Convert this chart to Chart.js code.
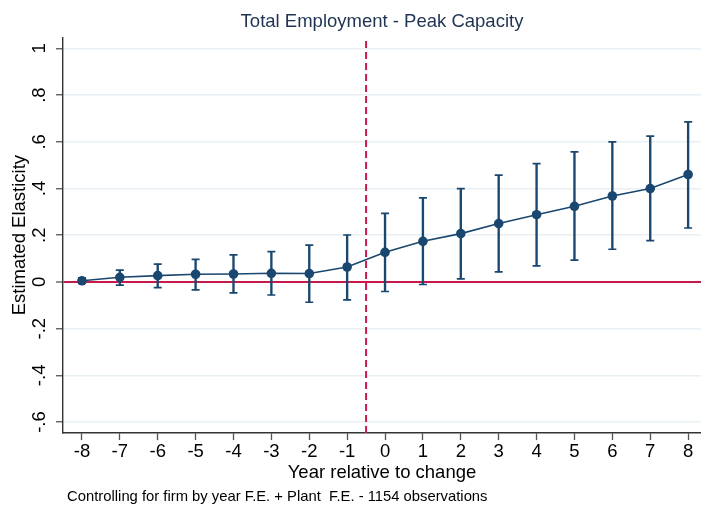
<!DOCTYPE html>
<html>
<head>
<meta charset="utf-8">
<script src="https://cdn.jsdelivr.net/npm/chart.js@4/dist/chart.umd.min.js"></script>
<style>
html,body{margin:0;padding:0;background:#fff;}
#wrap{width:701px;height:506px;position:relative;}
</style>
</head>
<body>
<div id="wrap"><canvas id="chart"></canvas></div>
<script>
// event-study estimates
const years=[-8,-7,-6,-5,-4,-3,-2,-1,0,1,2,3,4,5,6,7,8];
const estimate=[0.005,0.020,0.027,0.033,0.034,0.037,0.036,0.064,0.127,0.174,0.207,0.250,0.288,0.324,0.368,0.400,0.460];
const ciLow=[-0.005,-0.014,-0.024,-0.034,-0.047,-0.056,-0.087,-0.077,-0.041,-0.011,0.013,0.043,0.069,0.093,0.140,0.177,0.231];
const ciHigh=[0.017,0.051,0.076,0.097,0.116,0.130,0.158,0.201,0.294,0.360,0.400,0.457,0.507,0.557,0.600,0.624,0.685];

const yTicks=[-0.6,-0.4,-0.2,0,0.2,0.4,0.6,0.8,1];
const yTickLabels=["-.6","-.4","-.2","0",".2",".4",".6",".8","1"];
const xTicks=years;
const eventX=-0.5;
const yMin=-0.647, yMax=1.048;
const xMin=-8.5, xMax=8.34;

const navy="#1a476f";
const red="#c8194a";
Chart.defaults.font.family="'Liberation Sans', Arial, sans-serif";
Chart.defaults.color="#000";

const pts=arr=>years.map((x,i)=>({x:x,y:arr[i]}));

new Chart(document.getElementById("chart"),{
 type:"line",
 data:{datasets:[
  {type:"line",data:pts(estimate),borderColor:navy,borderWidth:1.6,
   pointRadius:4.8,pointBackgroundColor:navy,pointBorderWidth:0,order:0},
  {type:"bar",data:years.map((x,i)=>({x:x,y:[ciLow[i],ciHigh[i]]})),
   backgroundColor:navy,barThickness:1.7,order:1},
  {type:"scatter",data:pts(ciLow),pointStyle:"line",pointRadius:4,
   borderColor:navy,pointBorderWidth:1.7,order:1},
  {type:"scatter",data:pts(ciHigh),pointStyle:"line",pointRadius:4,
   borderColor:navy,pointBorderWidth:1.7,order:1},
  {type:"line",data:[{x:eventX,y:yMin},{x:eventX,y:yMax}],borderColor:red,
   borderWidth:2,borderDash:[7,4],pointRadius:0,order:2}
 ]},
 options:{
  responsive:true,maintainAspectRatio:false,animation:false,
  layout:{padding:0,autoPadding:false},
  plugins:{
   legend:{display:false},tooltip:{enabled:false},
   title:{display:true,text:"Total Employment - Peak Capacity",fullSize:false,
    color:"#1f3352",font:{size:18.5,weight:"normal"},padding:{top:11,bottom:4}},
   subtitle:{display:true,position:"bottom",align:"start",fullSize:false,
    text:" Controlling for firm by year F.E. + Plant  F.E. - 1154 observations",
    color:"#000",font:{size:14.8},padding:{top:6,bottom:0}}
  },
  scales:{
   x:{type:"linear",min:xMin,max:xMax,offset:false,
    afterBuildTicks:s=>{s.ticks=xTicks.map(v=>({value:v}));},
    afterFit:s=>{s.height=49.2;},
    ticks:{font:{size:18.5},padding:1,callback:v=>String(v),maxRotation:0,autoSkip:false},
    grid:{offset:false,drawOnChartArea:false,drawTicks:true,tickLength:7,tickColor:"#555",tickWidth:1.3},
    border:{display:true,color:"#333",width:1.4},
    title:{display:true,text:"Year relative to change",font:{size:18.5},padding:{top:0,bottom:-2}}
   },
   y:{type:"linear",min:yMin,max:yMax,
    afterBuildTicks:s=>{s.ticks=yTicks.map(v=>({value:v}));},
    afterFit:s=>{s.width=63;},
    ticks:{font:{size:18.5},padding:5,minRotation:90,maxRotation:90,crossAlign:"center",
     callback:v=>yTickLabels[yTicks.findIndex(t=>Math.abs(t-v)<1e-9)]},
    grid:{drawTicks:true,tickLength:7,
     color:c=>c.tick&&c.tick.value===0?red:"#e8f0f3",
     lineWidth:c=>c.tick&&c.tick.value===0?2:1.5,
     tickColor:"#555",tickWidth:1.3},
    border:{display:true,color:"#333",width:1.4},
    title:{display:true,text:"Estimated Elasticity",font:{size:18.5},padding:{top:9,bottom:0}}
   }
  }
 }
});
</script>
</body>
</html>
